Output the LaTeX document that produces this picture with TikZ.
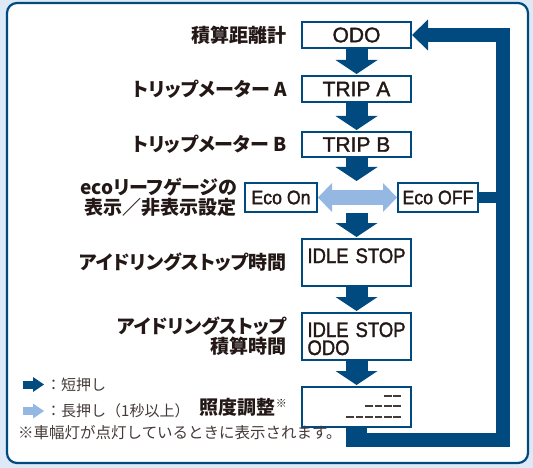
\documentclass[tikz,border=0pt]{standalone}
\usepackage{fontspec}
\setmainfont{Noto Sans CJK JP}
\newfontfamily\tagfont{Noto Sans CJK JP}[RawFeature=+palt]
\newfontfamily\lcdfont{Liberation Sans}[FakeBold=1.5]
\newfontfamily\lcdnarrow{Liberation Sans}[FakeStretch=0.88, FakeBold=1.5]
\newfontfamily\ecofont{Liberation Sans}[FakeStretch=0.91, FakeBold=1.5]
\usetikzlibrary{arrows.meta}
\definecolor{navy}{RGB}{0,74,128}
\definecolor{pale}{RGB}{148,184,225}
\definecolor{paper}{RGB}{221,233,246}
\definecolor{ink}{RGB}{35,24,21}

\begin{document}
\begin{tikzpicture}[x=1pt, y=-1pt,
    lcd/.style={draw=navy, line width=2pt, fill=white, text=ink, inner sep=0pt, minimum width=109pt, minimum height=26pt, font=\lcdfont\fontsize{21}{21}\selectfont},
    eco/.style={lcd, minimum height=29pt, font=\ecofont\fontsize{19.5}{19.5}\selectfont},
    idle/.style={lcd, font=\lcdnarrow\fontsize{21}{18}\selectfont, text width=98pt, align=left, text height=24pt, text depth=23pt},
    tag/.style={anchor=east, inner sep=0pt, text=ink, align=right, font=\tagfont\bfseries\fontsize{19}{20}\selectfont},
    push/.style={draw=navy, line width=22pt, shorten >=1pt, -{Triangle[length=14pt, width=42pt, line width=0pt]}},
    hold/.style={draw=pale, line width=14pt, {Triangle[length=14pt, width=29pt, line width=0pt]}-{Triangle[length=14pt, width=29pt, line width=0pt]}},
    back/.style={draw=navy, line width=14pt, line join=miter},
    seg/.style={draw=ink!85, line width=2.5pt, dash pattern=on 7.6pt off 1.8pt},
    note/.style={anchor=west, inner sep=0pt, text=ink!85, font=\fontsize{15}{16}\selectfont}
]
    % panel
    \fill[paper] (0,0) rectangle (533,468);
    \draw[navy, line width=2.2pt, fill=white, rounded corners=10pt] (7,3) rectangle (528,463);

    % display boxes
    \node[lcd] (odo) at (356.5,35) {ODO};
    \node[lcd] (tripa) at (356.5,89) {TRIP A};
    \node[lcd, minimum height=25pt] (tripb) at (356.5,144.5) {TRIP B};
    \node[eco, minimum width=72pt] (ecoon) at (281,197.5) {Eco On};
    \node[eco, minimum width=80pt] (ecooff) at (438,197.5) {Eco OFF};
    \node[idle] (idlestop) at (356.5,262.5) {IDLE~STOP};
    \node[idle] (idleodo) at (356.5,336.5) {IDLE~STOP\\ODO};
    \node[lcd, minimum height=40pt] (dimmer) at (356.5,407) {};
    \draw[seg] ([shift={(-11,10)}]dimmer.north east) -- ++(-17,0);
    \draw[seg] ([shift={(-11,20)}]dimmer.north east) -- ++(-36,0);
    \draw[seg] ([shift={(-11,31)}]dimmer.north east) -- ++(-55,0);

    % labels
    \node[tag] (odotag) at ([xshift=-14pt]odo.west) {積算距離計};
    \node[tag] (tripatag) at ([xshift=-14pt]tripa.west) {トリップメーター A};
    \node[tag] (tripbtag) at ([xshift=-14pt]tripb.west) {トリップメーター B};
    \node[tag] (ecotag) at ([xshift=-7pt]ecoon.west) {ecoリーフゲージの\\表示／非表示設定};
    \node[tag] (idlestoptag) at ([xshift=-14pt]idlestop.west) {アイドリングストップ時間};
    \node[tag] (idleodotag) at ([xshift=-14pt]idleodo.west) {アイドリングストップ\\積算時間};
    \node[tag] (dimmertag) at ([xshift=-14pt]dimmer.west) {照度調整\raisebox{7pt}{\mdseries\fontsize{11}{11}\selectfont ※}};

    % short press
    \coordinate (ecotop) at (tripb.south |- ecoon.north);
    \coordinate (ecobottom) at (tripb.south |- ecoon.south);
    \draw[push] (odo) -- (tripa);
    \draw[push] (tripa) -- (tripb);
    \draw[push] (tripb) -- (ecotop);
    \draw[push] (ecobottom) -- (idlestop);
    \draw[push] (idlestop) -- (idleodo);
    \draw[push] (idleodo) -- (dimmer);
    % long press
    \draw[hold] (ecoon) -- (ecooff);

    % back to ODO
    \coordinate (loopstart) at (346,439.5);
    \coordinate (corner) at (502.5,439.5);
    \draw[back, line width=21pt] (dimmer) -- (dimmer.south |- corner);
    \draw[back, line width=11pt] (ecooff) -- (ecooff -| corner);
    \draw[back, -{Triangle[length=16pt, width=31pt, line width=0pt]}] (loopstart) -- (corner) |- (odo);

    % key
    \coordinate (shortkey) at (23,384.5);
    \coordinate (longkey) at (23,411);
    \draw[navy, line width=8pt, -{Triangle[length=11pt, width=15pt, line width=0pt]}] (shortkey) -- ++(21,0);
    \draw[pale, line width=8pt, -{Triangle[length=11pt, width=15pt, line width=0pt]}] (longkey) -- ++(21,0);
    \node[note] (shortnote) at (46,384.5) {：短押し};
    \node[note] (longnote) at (46,411) {：長押し（1秒以上）};
    \node[note, font=\fontsize{15.5}{16}\selectfont] (footnote) at (18,433) {※車幅灯が点灯しているときに表示されます。};
\end{tikzpicture}
\end{document}
